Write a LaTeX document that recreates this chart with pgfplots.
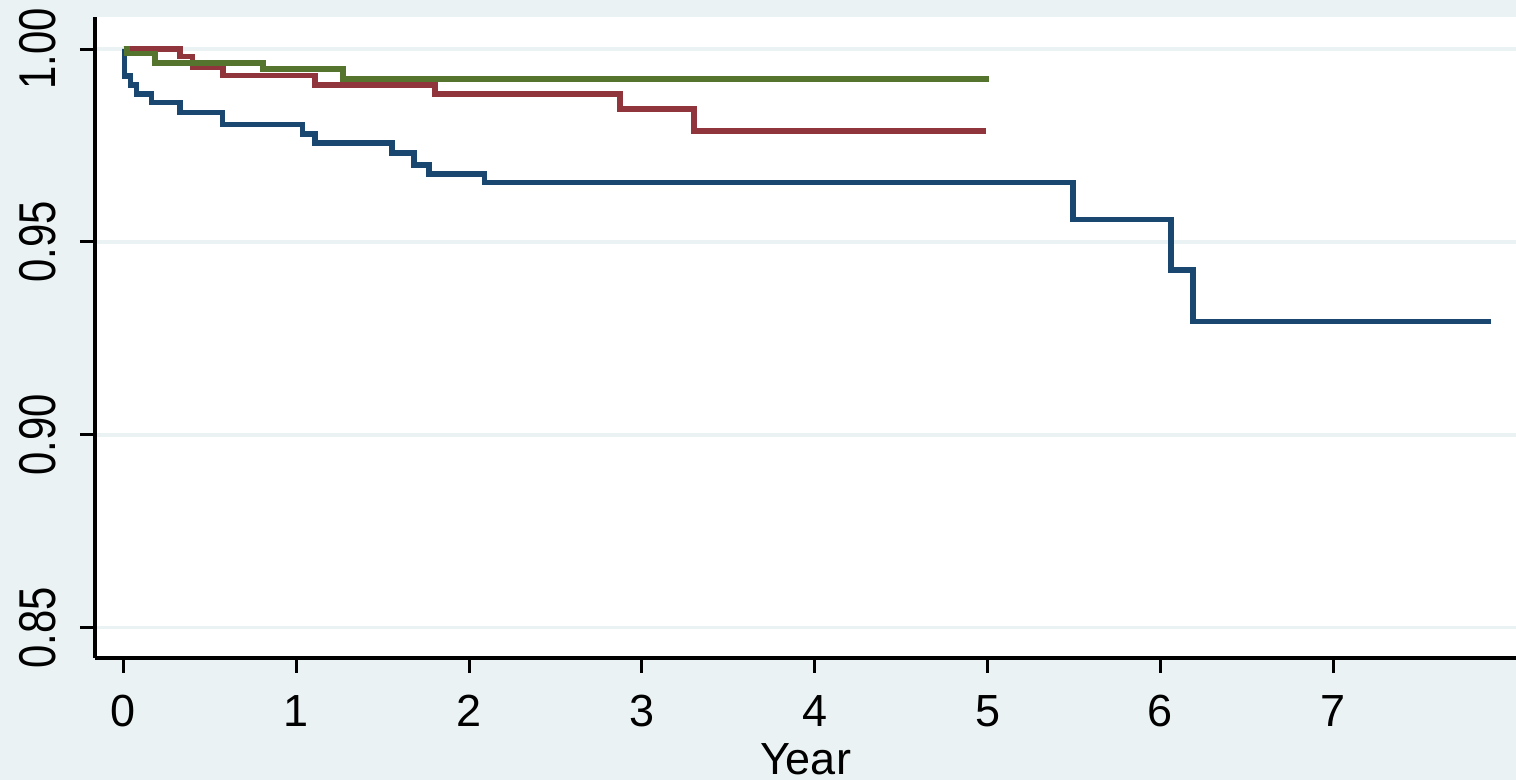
\documentclass[border=0pt]{standalone}
\usepackage{pgfplots}
\pgfplotsset{compat=1.18}
\usepackage{fontspec}
\setmainfont{Liberation Sans}
\definecolor{bgc}{RGB}{234,242,243}
\definecolor{snavy}{RGB}{26,71,111}
\definecolor{scran}{RGB}{144,53,59}
\definecolor{solive}{RGB}{85,117,47}
\begin{document}
\begin{tikzpicture}
\useasboundingbox (-47.5pt,-61pt) rectangle (710.5pt,329pt);
\fill[bgc] (-47.5pt,-61pt) rectangle (710.5pt,329pt);
\begin{axis}[
  scale only axis,
  width=710.5pt, height=320.5pt,
  anchor=south west, at={(0,0)},
  xmin=-0.165, xmax=8.058,
  ymin=0.8422, ymax=1.0083,
  axis lines*=left,
  axis line style={line width=1.9pt, black},
  axis background/.style={fill=white},
  tick align=outside,
  major tick length=7.5pt,
  every tick/.style={line width=1.5pt, black},
  xtick={0,1,2,3,4,5,6,7},
  ytick={0.85,0.90,0.95,1.00},
  yticklabel style={/pgf/number format/fixed, /pgf/number format/fixed zerofill, /pgf/number format/precision=2},
  /pgf/number format/assume math mode=true,
  ymajorgrids,
  grid style={bgc, line width=1.6pt},
  tick label style={font=\fontsize{22.5}{27}\selectfont, black},
  xticklabel style={anchor=base, yshift=-26.6pt},
  yticklabel style={xshift=-12pt, rotate=90, anchor=base, xscale=0.93, yscale=1.15},
  xlabel={Year},
  xlabel style={font=\fontsize{22.5}{27}\selectfont, at={(axis description cs:0.5,0)}, anchor=base, yshift=-58.25pt},
  every axis plot/.append style={line width=2.75pt, line join=miter, const plot},
]
\addplot[snavy] coordinates {
(0,1.0) (0.006,0.9930) (0.039,0.9907) (0.076,0.9884) (0.163,0.9861)
(0.327,0.9836) (0.574,0.9804) (1.037,0.9780) (1.108,0.9757) (1.553,0.9731)
(1.680,0.9700) (1.767,0.9676) (2.089,0.9654) (5.495,0.9558) (6.061,0.9428)
(6.190,0.9294) (7.914,0.9294)
};
\addplot[scran] coordinates {
(0,1.0) (0.327,0.9980) (0.398,0.9954) (0.575,0.9931) (1.108,0.9907)
(1.803,0.9884) (2.873,0.9844) (3.302,0.9788) (4.991,0.9788)
};
\addplot[solive] coordinates {
(0,1.0) (0.020,0.9988) (0.181,0.9964) (0.807,0.9948) (1.269,0.9922) (5.009,0.9922)
};
\end{axis}
\end{tikzpicture}
\end{document}
